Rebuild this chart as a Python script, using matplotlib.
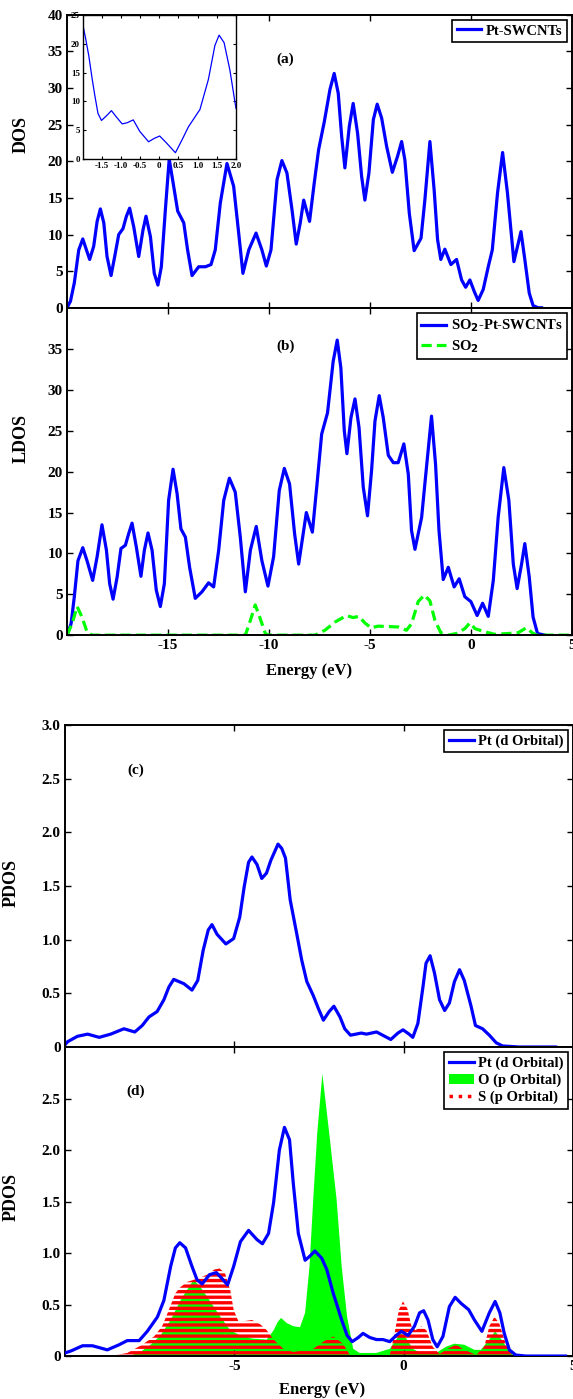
import matplotlib
matplotlib.use('Agg')
import matplotlib.pyplot as plt
from matplotlib.lines import Line2D
from matplotlib.patches import Patch
from matplotlib.ticker import FuncFormatter

plt.rcParams['font.family'] = ['Liberation Serif', 'DejaVu Serif']
plt.rcParams['font.weight'] = 'bold'
plt.rcParams['axes.labelweight'] = 'bold'
plt.rcParams['axes.unicode_minus'] = False
plt.rcParams['mathtext.default'] = 'bf'
plt.rcParams['hatch.linewidth'] = 2.4
plt.rcParams['hatch.color'] = '#ff0000'
plt.rcParams['lines.solid_joinstyle'] = 'round'
plt.rcParams['lines.dash_joinstyle'] = 'round'

BLUE = '#0000ff'
GREEN = '#00ff00'
RED = '#ff0000'

# (a) total DOS of Pt-SWCNTs
dos_e = [-20.0, -19.83, -19.64, -19.42, -19.22, -19.04, -18.88, -18.68, -18.51, -18.35,
         -18.18, -18.02, -17.82, -17.64, -17.44, -17.23, -17.06, -16.9, -16.7, -16.45,
         -16.24, -16.09, -15.87, -15.68, -15.5, -15.33, -15.13, -14.94, -14.72, -14.52,
         -14.22, -14.03, -13.81, -13.48, -13.15, -12.87, -12.66, -12.41, -12.08, -11.75,
         -11.5, -11.29, -11.0, -10.64, -10.35, -10.13, -9.9, -9.6, -9.36, -9.11,
         -8.86, -8.65, -8.45, -8.28, -7.99, -7.76, -7.54, -7.26, -6.98, -6.77,
         -6.57, -6.4, -6.24, -6.02, -5.83, -5.61, -5.41, -5.25, -5.05, -4.83,
         -4.64, -4.42, -4.17, -3.89, -3.63, -3.43, -3.27, -3.05, -2.81, -2.47,
         -2.28, -2.03, -1.82, -1.65, -1.49, -1.29, -0.99, -0.71, -0.46, -0.26,
         -0.05, 0.17, 0.36, 0.61, 0.86, 1.06, 1.32, 1.57, 1.81, 2.13,
         2.31, 2.48, 2.67, 2.89, 3.08, 3.33, 3.5]
dos_v = [0.0, 0.9, 3.4, 7.9, 9.4, 7.9, 6.6, 8.4, 11.8, 13.5,
         11.6, 7.0, 4.4, 7.0, 10.0, 10.8, 12.5, 13.6, 11.1, 7.0,
         10.6, 12.5, 9.7, 4.7, 3.1, 5.6, 13.4, 20.3, 16.6, 13.2,
         11.6, 7.9, 4.4, 5.6, 5.6, 5.9, 7.9, 14.3, 19.7, 16.6,
         10.2, 4.7, 7.9, 10.2, 7.9, 5.7, 7.9, 17.5, 20.1, 18.4,
         13.4, 8.7, 11.6, 14.7, 11.8, 17.0, 21.6, 25.4, 29.8, 32.0,
         29.3, 23.4, 19.1, 24.8, 27.9, 23.8, 17.9, 14.7, 18.4, 25.7,
         27.8, 25.9, 22.0, 18.5, 20.7, 22.7, 20.2, 12.9, 7.8, 9.5,
         14.7, 22.7, 16.1, 9.3, 6.6, 8.0, 5.9, 6.6, 3.8, 2.8,
         3.8, 2.2, 1.0, 2.5, 5.6, 7.9, 15.7, 21.2, 15.7, 6.3,
         8.4, 10.4, 6.6, 2.0, 0.3, 0.0, 0.0]

# inset: DOS near the Fermi level
ins_e = [-1.98, -1.92, -1.84, -1.75, -1.68, -1.6, -1.51, -1.38, -1.25, -1.12,
         -0.97, -0.84, -0.68, -0.51, -0.28, -0.13, 0.01, 0.2, 0.42, 0.59,
         0.76, 1.06, 1.28, 1.45, 1.56, 1.69, 1.84, 2.0]
ins_v = [22.8, 20.8, 17.9, 13.8, 10.9, 7.9, 6.7, 7.5, 8.4, 7.3,
         6.1, 6.3, 6.8, 4.8, 3.0, 3.6, 4.0, 2.7, 1.1, 3.3,
         5.6, 8.6, 13.8, 19.7, 21.5, 20.2, 15.5, 8.8]

# (b) LDOS of SO2-Pt-SWCNTs and SO2
ldos_e = [-20.0, -19.8, -19.64, -19.46, -19.22, -19.01, -18.73, -18.51, -18.27, -18.05,
          -17.89, -17.72, -17.52, -17.33, -17.11, -16.95, -16.78, -16.57, -16.34, -16.17,
          -15.99, -15.79, -15.58, -15.38, -15.18, -14.97, -14.75, -14.55, -14.36, -14.14,
          -13.93, -13.65, -13.32, -12.99, -12.74, -12.49, -12.24, -11.96, -11.67, -11.42,
          -11.17, -10.92, -10.63, -10.35, -10.05, -9.77, -9.49, -9.24, -8.98, -8.73,
          -8.53, -8.33, -8.15, -7.85, -7.62, -7.39, -7.1, -6.82, -6.62, -6.44,
          -6.27, -6.14, -5.94, -5.74, -5.54, -5.33, -5.12, -4.92, -4.75, -4.54,
          -4.34, -4.09, -3.84, -3.6, -3.32, -3.1, -2.94, -2.77, -2.44, -2.28,
          -1.95, -1.75, -1.58, -1.37, -1.12, -0.83, -0.58, -0.3, 0.0, 0.31,
          0.58, 0.86, 1.11, 1.35, 1.63, 1.88, 2.1, 2.29, 2.51, 2.67,
          2.89, 3.08, 3.3, 3.66]
ldos_v = [0.0, 1.4, 4.7, 9.1, 10.7, 9.1, 6.7, 9.6, 13.5, 10.4,
          6.3, 4.4, 7.1, 10.6, 11.0, 12.4, 13.7, 10.8, 7.2, 10.4,
          12.5, 10.4, 5.5, 3.5, 6.3, 16.5, 20.3, 17.3, 13.0, 12.0,
          8.3, 4.5, 5.3, 6.4, 5.9, 10.4, 16.5, 19.2, 17.5, 12.0,
          5.3, 10.4, 13.3, 9.1, 6.0, 9.6, 17.7, 20.4, 18.5, 12.4,
          8.7, 12.0, 15.0, 12.6, 18.5, 24.6, 27.2, 33.5, 36.1, 32.7,
          25.0, 22.2, 26.6, 28.9, 25.4, 18.1, 14.6, 20.1, 26.2, 29.3,
          26.6, 22.0, 21.1, 21.1, 23.4, 19.7, 12.8, 10.5, 14.4, 18.5,
          26.8, 20.9, 12.8, 6.8, 8.3, 5.9, 6.9, 4.7, 4.1, 2.4,
          3.9, 2.3, 6.7, 14.4, 20.5, 16.5, 8.7, 5.7, 8.7, 11.2,
          7.1, 2.2, 0.2, 0.0]

so2_e = [-20.0, -19.75, -19.5, -19.26, -19.01, -18.76, -11.17, -10.92, -10.68, -10.43,
         -10.18, -10.02, -7.72, -7.23, -6.73, -6.16, -5.83, -5.55, -5.25, -4.95,
         -4.59, -3.6, -3.19, -2.94, -2.61, -2.31, -2.03, -1.78, -1.49, -1.12,
         -0.71, -0.3, -0.05, 0.2, 0.69, 1.19, 1.85, 2.34, 2.75, 3.03,
         3.25, 5.0]
so2_v = [0.0, 1.4, 3.5, 2.2, 0.4, 0.0, 0.0, 1.8, 3.7, 2.0,
         0.2, 0.0, 0.0, 0.6, 1.6, 2.4, 2.15, 2.3, 1.5, 0.9,
         1.1, 1.0, 0.6, 1.4, 4.1, 4.9, 4.2, 1.8, 0.3, 0.0,
         0.2, 0.8, 1.5, 0.8, 0.4, 0.1, 0.2, 0.3, 0.9, 0.3,
         0.0, 0.0]

# (c) Pt d orbital PDOS, before adsorption
ptc_e = [-10.0, -9.92, -9.63, -9.33, -8.99, -8.65, -8.26, -7.94, -7.72, -7.52,
         -7.28, -7.08, -6.93, -6.79, -6.49, -6.25, -6.08, -5.92, -5.77, -5.66,
         -5.51, -5.25, -5.02, -4.84, -4.71, -4.58, -4.48, -4.33, -4.19, -4.05,
         -3.92, -3.71, -3.6, -3.49, -3.35, -3.16, -3.01, -2.86, -2.67, -2.52,
         -2.37, -2.2, -2.06, -1.88, -1.74, -1.57, -1.25, -1.1, -0.8, -0.56,
         -0.38, -0.17, -0.02, 0.16, 0.27, 0.42, 0.57, 0.66, 0.78, 0.91,
         1.06, 1.21, 1.35, 1.5, 1.65, 1.79, 1.99, 2.12, 2.33, 2.53,
         2.73, 2.92, 3.41, 4.49]
ptc_v = [0.02, 0.05, 0.10, 0.12, 0.09, 0.12, 0.17, 0.14, 0.20, 0.28,
         0.33, 0.44, 0.56, 0.63, 0.59, 0.53, 0.62, 0.90, 1.09, 1.14,
         1.05, 0.96, 1.01, 1.21, 1.49, 1.72, 1.77, 1.70, 1.57, 1.62,
         1.74, 1.89, 1.85, 1.76, 1.37, 1.06, 0.81, 0.61, 0.48, 0.36,
         0.25, 0.33, 0.38, 0.28, 0.17, 0.11, 0.13, 0.12, 0.14, 0.10,
         0.07, 0.13, 0.16, 0.12, 0.09, 0.22, 0.56, 0.78, 0.85, 0.69,
         0.44, 0.34, 0.41, 0.61, 0.72, 0.62, 0.38, 0.20, 0.17, 0.11,
         0.04, 0.01, 0.0, 0.0]

# (d) PDOS after SO2 adsorption
ptd_e = [-10.0, -9.82, -9.48, -9.19, -8.75, -8.4, -8.16, -7.81, -7.57, -7.27,
         -7.08, -6.88, -6.74, -6.61, -6.44, -6.25, -6.1, -5.95, -5.73, -5.53,
         -5.33, -5.2, -5.02, -4.82, -4.58, -4.33, -4.17, -3.99, -3.84, -3.67,
         -3.52, -3.37, -3.26, -3.11, -2.91, -2.77, -2.62, -2.42, -2.27, -2.08,
         -1.83, -1.67, -1.52, -1.34, -1.2, -1.0, -0.8, -0.61, -0.41, -0.22,
         -0.07, 0.13, 0.32, 0.47, 0.59, 0.72, 0.86, 0.99, 1.16, 1.35,
         1.52, 1.7, 1.92, 2.09, 2.31, 2.53, 2.7, 2.84, 2.97, 3.12,
         3.31, 3.61, 4.78]
ptd_v = [0.03, 0.05, 0.10, 0.10, 0.06, 0.11, 0.15, 0.15, 0.24, 0.38,
         0.54, 0.87, 1.05, 1.10, 1.05, 0.87, 0.74, 0.70, 0.79, 0.81,
         0.74, 0.69, 0.87, 1.11, 1.22, 1.13, 1.09, 1.19, 1.49, 2.00,
         2.22, 2.10, 1.68, 1.19, 0.93, 0.97, 1.02, 0.95, 0.84, 0.61,
         0.35, 0.20, 0.14, 0.18, 0.22, 0.18, 0.16, 0.16, 0.14, 0.20,
         0.24, 0.20, 0.29, 0.42, 0.44, 0.35, 0.16, 0.09, 0.19, 0.48,
         0.57, 0.51, 0.45, 0.35, 0.24, 0.42, 0.53, 0.42, 0.22, 0.06,
         0.01, 0.0, 0.0]

o_e = [-8.26, -8.01, -7.77, -7.47, -7.18, -6.88, -6.59, -6.34, -6.2, -6.0,
       -5.71, -5.41, -5.12, -4.82, -4.48, -4.04, -3.84, -3.72, -3.62, -3.45,
       -3.26, -3.06, -2.91, -2.78, -2.67, -2.55, -2.4, -2.2, -1.98, -1.83,
       -1.67, -1.49, -1.3, -0.81, -0.41, -0.22, -0.07, 0.08, 0.27, 0.57,
       0.96, 1.25, 1.5, 1.79, 2.09, 2.28, 2.48, 2.7, 2.87, 3.07,
       3.26]
o_v = [0.0, 0.01, 0.04, 0.11, 0.20, 0.35, 0.54, 0.67, 0.74, 0.67,
       0.53, 0.38, 0.25, 0.20, 0.17, 0.16, 0.25, 0.33, 0.37, 0.32,
       0.29, 0.28, 0.42, 0.87, 1.52, 2.17, 2.74, 2.17, 1.52, 0.87,
       0.38, 0.07, 0.03, 0.03, 0.07, 0.16, 0.22, 0.17, 0.07, 0.02,
       0.03, 0.09, 0.12, 0.11, 0.06, 0.06, 0.14, 0.24, 0.17, 0.07,
       0.0]

s_e = [-8.65, -8.16, -7.72, -7.37, -7.13, -6.93, -6.74, -6.59, -6.39, -6.1,
       -5.8, -5.59, -5.43, -5.27, -5.12, -5.02, -4.87, -4.68, -4.48, -4.24,
       -4.04, -3.84, -3.55, -3.26, -2.67, -2.37, -2.08, -1.79, -1.59, -0.41,
       -0.27, -0.14, -0.02, 0.11, 0.23, 0.35, 0.52, 0.67, 0.86, 1.06,
       1.3, 1.55, 1.74, 2.14, 2.38, 2.53, 2.68, 2.82, 3.02, 3.22]
s_v = [0.0, 0.03, 0.11, 0.19, 0.29, 0.45, 0.61, 0.67, 0.72, 0.75,
       0.79, 0.84, 0.85, 0.80, 0.64, 0.45, 0.33, 0.34, 0.35, 0.31,
       0.25, 0.16, 0.07, 0.04, 0.07, 0.14, 0.19, 0.12, 0.01, 0.01,
       0.22, 0.45, 0.53, 0.46, 0.29, 0.25, 0.29, 0.25, 0.09, 0.02,
       0.07, 0.11, 0.07, 0.01, 0.09, 0.29, 0.38, 0.32, 0.11, 0.0]


def pdos_fmt(v, pos):
    return '0' if abs(v) < 1e-9 else '%.1f' % v


def style_axes(ax):
    for sp in ax.spines.values():
        sp.set_linewidth(1.4)
    ax.tick_params(direction='in', length=4, width=1, top=True, right=True,
                   labelsize=11, pad=3)


def legend(ax, handles, labels, **kw):
    leg = ax.legend(handles, labels, loc='upper right', fontsize=10.5,
                    fancybox=False, framealpha=1, edgecolor='black',
                    borderaxespad=0.35, borderpad=0.3, handlelength=1.7,
                    handletextpad=0.3, labelspacing=0.25, **kw)
    leg.get_frame().set_linewidth(1.2)
    return leg


fig = plt.figure(figsize=(5.73, 13.99), dpi=100)

# ---------------- (a) ----------------
ax_a = fig.add_axes([0.117, 0.780, 0.881, 0.2094])
la, = ax_a.plot(dos_e, dos_v, color=BLUE, lw=2.3)
ax_a.set_xlim(-20, 5)
ax_a.set_ylim(0, 40)
ax_a.set_xticks([-15, -10, -5, 0, 5])
ax_a.set_xticklabels([])
ax_a.set_yticks(range(0, 41, 5))
style_axes(ax_a)
ax_a.set_ylabel('DOS', fontsize=13)
ax_a.yaxis.set_label_coords(-0.075, 0.59)
ax_a.text(-9.2, 34, '(a)', fontsize=11, ha='center', va='center')
legend(ax_a, [la], ['Pt-SWCNTs'])

ins = fig.add_axes([0.1443, 0.8863, 0.2675, 0.1030])
ins.plot(ins_e, ins_v, color=BLUE, lw=0.9)
ins.set_xlim(-2, 2)
ins.set_ylim(0, 25)
ins.set_xticks([-1.5, -1.0, -0.5, 0, 0.5, 1.0, 1.5, 2.0])
ins.xaxis.set_major_formatter(FuncFormatter(pdos_fmt))
ins.set_yticks(range(0, 26, 5))
ins.tick_params(direction='in', length=2.5, width=0.8, top=True, right=True,
                labelsize=6.5, pad=2)
for sp in ins.spines.values():
    sp.set_linewidth(1.0)

# ---------------- (b) ----------------
ax_b = fig.add_axes([0.117, 0.546, 0.881, 0.2337])
lb1, = ax_b.plot(ldos_e, ldos_v, color=BLUE, lw=2.3)
lb2, = ax_b.plot(so2_e, so2_v, color=GREEN, lw=2.3, ls=(0, (3.2, 1.6)))
ax_b.set_xlim(-20, 5)
ax_b.set_ylim(0, 40)
ax_b.set_xticks([-15, -10, -5, 0, 5])
ax_b.set_yticks(range(0, 36, 5))
style_axes(ax_b)
ax_b.set_ylabel('LDOS', fontsize=13)
ax_b.yaxis.set_label_coords(-0.075, 0.60)
ax_b.set_xlabel('Energy (eV)', fontsize=12)
ax_b.xaxis.set_label_coords(0.48, -0.085)
ax_b.text(-9.2, 35.4, '(b)', fontsize=11, ha='center', va='center')
legend(ax_b, [lb1, lb2], ['SO$_2$-Pt-SWCNTs', 'SO$_2$'])

# ---------------- (c) ----------------
ax_c = fig.add_axes([0.1134, 0.2516, 0.8866, 0.2302])
lc, = ax_c.plot(ptc_e, ptc_v, color=BLUE, lw=2.3)
ax_c.set_xlim(-10, 5)
ax_c.set_ylim(0, 3)
ax_c.set_xticks([-5, 0, 5])
ax_c.set_xticklabels([])
ax_c.set_yticks([0, 0.5, 1.0, 1.5, 2.0, 2.5, 3.0])
ax_c.yaxis.set_major_formatter(FuncFormatter(pdos_fmt))
style_axes(ax_c)
ax_c.set_ylabel('PDOS', fontsize=13)
ax_c.yaxis.set_label_coords(-0.09, 0.51)
ax_c.text(-7.9, 2.58, '(c)', fontsize=11, ha='center', va='center')
legend(ax_c, [lc], ['Pt (d Orbital)'])

# ---------------- (d) ----------------
ax_d = fig.add_axes([0.1134, 0.0307, 0.8866, 0.2209])
ax_d.fill_between(o_e, 0, o_v, facecolor=GREEN, edgecolor='none', zorder=1)
ax_d.fill_between(s_e, 0, s_v, facecolor='none', edgecolor=RED, hatch='---',
                  linewidth=0, zorder=2)
ld, = ax_d.plot(ptd_e, ptd_v, color=BLUE, lw=2.3, zorder=3)
ax_d.set_xlim(-10, 5)
ax_d.set_ylim(0, 3)
ax_d.set_xticks([-5, 0, 5])
ax_d.set_yticks([0, 0.5, 1.0, 1.5, 2.0, 2.5])
ax_d.yaxis.set_major_formatter(FuncFormatter(pdos_fmt))
style_axes(ax_d)
ax_d.set_ylabel('PDOS', fontsize=13)
ax_d.yaxis.set_label_coords(-0.09, 0.515)
ax_d.set_xlabel('Energy (eV)', fontsize=12)
ax_d.xaxis.set_label_coords(0.507, -0.085)
ax_d.text(-7.9, 2.57, '(d)', fontsize=11, ha='center', va='center')
o_patch = Patch(facecolor=GREEN, edgecolor='none')
s_line = Line2D([], [], color=RED, lw=2.5, ls=':')
legend(ax_d, [ld, o_patch, s_line],
       ['Pt (d Orbital)', 'O (p Orbital)', 'S (p Orbital)'])

fig.savefig('out.png', dpi=100)
